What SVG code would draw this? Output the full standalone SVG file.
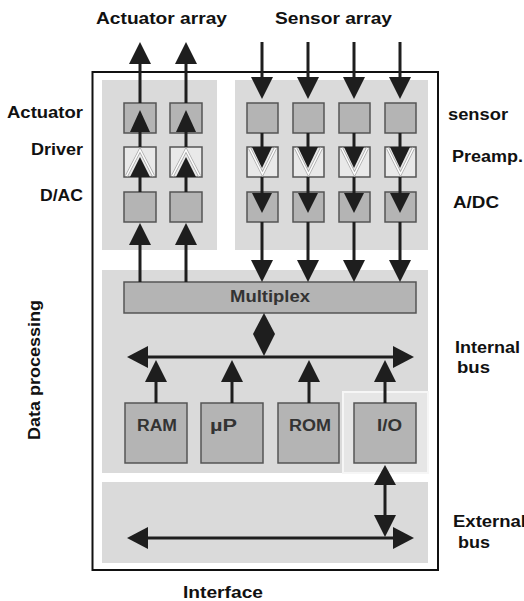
<svg xmlns="http://www.w3.org/2000/svg" width="524" height="601" viewBox="0 0 524 601">
<style>
.panel{fill:#dadada;}
.box{fill:#b4b4b4;stroke:#555;stroke-width:1.5;}
.amp{fill:#e9e9e9;stroke:#555;stroke-width:1.5;}
.vline{fill:none;stroke:#a8a8a8;stroke-width:3;stroke-linejoin:miter;}
.vline2{fill:none;stroke:#fcfcfc;stroke-width:1.6;stroke-linejoin:miter;}
.ln{stroke:#1e1e1e;stroke-width:3;fill:none;}
.hd{fill:#1e1e1e;}
text{font-family:"Liberation Sans",Arial,sans-serif;font-weight:bold;font-size:16px;fill:#111;}
.in{fill:#333;}
</style>
<rect width="524" height="601" fill="#fff"/>
<g id="frame">
<rect x="92.5" y="72" width="345.5" height="498" fill="#fff" stroke="#111" stroke-width="2"/>
</g>
<g id="panels">
<rect id="actuator-panel" class="panel" x="102" y="80" width="115" height="170"/>
<rect id="sensor-panel" class="panel" x="235" y="80" width="193" height="170"/>
<rect id="data-panel" class="panel" x="102" y="270" width="326" height="203"/>
<rect id="io-panel" x="343" y="392" width="85" height="81" fill="#e6e6e6" stroke="#f6f6f6" stroke-width="2"/>
<rect id="interface-panel" class="panel" x="102" y="482" width="326" height="81"/>
</g>
<g id="nodes">
<g id="act1"><rect class="box" x="124" y="103" width="32" height="30"/></g>
<g id="act2"><rect class="box" x="170" y="103" width="32" height="30"/></g>
<g id="drv1"><rect class="amp" x="124" y="147" width="32" height="30"/><polyline class="vline" points="126.5,176 140,150 153.5,176"/><polyline class="vline2" points="126.5,176 140,150 153.5,176"/></g>
<g id="drv2"><rect class="amp" x="170" y="147" width="32" height="30"/><polyline class="vline" points="172.5,176 186,150 199.5,176"/><polyline class="vline2" points="172.5,176 186,150 199.5,176"/></g>
<g id="dac1"><rect class="box" x="124" y="192" width="32" height="30"/></g>
<g id="dac2"><rect class="box" x="170" y="192" width="32" height="30"/></g>
<g id="sen1"><rect class="box" x="247" y="103" width="31" height="30"/></g>
<g id="sen2"><rect class="box" x="293" y="103" width="31" height="30"/></g>
<g id="sen3"><rect class="box" x="339" y="103" width="31" height="30"/></g>
<g id="sen4"><rect class="box" x="385" y="103" width="31" height="30"/></g>
<g id="pre1"><rect class="amp" x="247" y="147" width="31" height="30"/><polyline class="vline" points="249.5,148 262.5,174 275.5,148"/><polyline class="vline2" points="249.5,148 262.5,174 275.5,148"/></g>
<g id="pre2"><rect class="amp" x="293" y="147" width="31" height="30"/><polyline class="vline" points="295.5,148 308.5,174 321.5,148"/><polyline class="vline2" points="295.5,148 308.5,174 321.5,148"/></g>
<g id="pre3"><rect class="amp" x="339" y="147" width="31" height="30"/><polyline class="vline" points="341.5,148 354.5,174 367.5,148"/><polyline class="vline2" points="341.5,148 354.5,174 367.5,148"/></g>
<g id="pre4"><rect class="amp" x="385" y="147" width="31" height="30"/><polyline class="vline" points="387.5,148 400.5,174 413.5,148"/><polyline class="vline2" points="387.5,148 400.5,174 413.5,148"/></g>
<g id="adc1"><rect class="box" x="247" y="192" width="31" height="30"/></g>
<g id="adc2"><rect class="box" x="293" y="192" width="31" height="30"/></g>
<g id="adc3"><rect class="box" x="339" y="192" width="31" height="30"/></g>
<g id="adc4"><rect class="box" x="385" y="192" width="31" height="30"/></g>
<g id="multiplex"><rect class="box" x="124" y="282" width="292" height="31" fill="#bcbcbc"/><text class="in" x="270" y="302" text-anchor="middle" textLength="80" lengthAdjust="spacingAndGlyphs">Multiplex</text></g>
<g id="ram"><rect class="box" x="125" y="403" width="62" height="60"/><text class="in" x="157" y="431" text-anchor="middle" textLength="40" lengthAdjust="spacingAndGlyphs">RAM</text></g>
<g id="up"><rect class="box" x="201" y="403" width="62" height="60"/><text class="in" x="223.5" y="431" text-anchor="middle" textLength="27" lengthAdjust="spacingAndGlyphs">µP</text></g>
<g id="rom"><rect class="box" x="278" y="403" width="61" height="60"/><text class="in" x="310" y="431" text-anchor="middle" textLength="42" lengthAdjust="spacingAndGlyphs">ROM</text></g>
<g id="io"><rect class="box" x="354" y="403" width="62" height="60"/><text class="in" x="389.5" y="431" text-anchor="middle" textLength="25" lengthAdjust="spacingAndGlyphs">I/O</text></g>
</g>
<g id="connectors">
<line class="ln" x1="140" y1="103" x2="140" y2="62"/><polygon class="hd" points="140,42 151,64 129,64"/>
<line class="ln" x1="186" y1="103" x2="186" y2="62"/><polygon class="hd" points="186,42 197,64 175,64"/>
<line class="ln" x1="140" y1="147" x2="140" y2="131"/><polygon class="hd" points="140,110 150,132 130,132"/>
<line class="ln" x1="186" y1="147" x2="186" y2="131"/><polygon class="hd" points="186,110 196,132 176,132"/>
<line class="ln" x1="140" y1="192" x2="140" y2="176"/><polygon class="hd" points="140,157 150,177 130,177"/>
<line class="ln" x1="186" y1="192" x2="186" y2="176"/><polygon class="hd" points="186,157 196,177 176,177"/>
<line class="ln" x1="140" y1="282" x2="140" y2="244"/><polygon class="hd" points="140,223 151,245 129,245"/>
<line class="ln" x1="186" y1="282" x2="186" y2="244"/><polygon class="hd" points="186,223 197,245 175,245"/>
<line class="ln" x1="262" y1="42" x2="262" y2="79"/><polygon class="hd" points="251,77 273,77 262,99"/>
<line class="ln" x1="308" y1="42" x2="308" y2="79"/><polygon class="hd" points="297,77 319,77 308,99"/>
<line class="ln" x1="354" y1="42" x2="354" y2="79"/><polygon class="hd" points="343,77 365,77 354,99"/>
<line class="ln" x1="400" y1="42" x2="400" y2="79"/><polygon class="hd" points="389,77 411,77 400,99"/>
<line class="ln" x1="262" y1="133" x2="262" y2="148"/><polygon class="hd" points="252,147 272,147 262,168"/>
<line class="ln" x1="308" y1="133" x2="308" y2="148"/><polygon class="hd" points="298,147 318,147 308,168"/>
<line class="ln" x1="354" y1="133" x2="354" y2="148"/><polygon class="hd" points="344,147 364,147 354,168"/>
<line class="ln" x1="400" y1="133" x2="400" y2="148"/><polygon class="hd" points="390,147 410,147 400,168"/>
<line class="ln" x1="262" y1="177" x2="262" y2="194"/><polygon class="hd" points="252,193 272,193 262,213"/>
<line class="ln" x1="308" y1="177" x2="308" y2="194"/><polygon class="hd" points="298,193 318,193 308,213"/>
<line class="ln" x1="354" y1="177" x2="354" y2="194"/><polygon class="hd" points="344,193 364,193 354,213"/>
<line class="ln" x1="400" y1="177" x2="400" y2="194"/><polygon class="hd" points="390,193 410,193 400,213"/>
<line class="ln" x1="262" y1="222" x2="262" y2="261"/><polygon class="hd" points="251,260 273,260 262,282"/>
<line class="ln" x1="308" y1="222" x2="308" y2="261"/><polygon class="hd" points="297,260 319,260 308,282"/>
<line class="ln" x1="354" y1="222" x2="354" y2="261"/><polygon class="hd" points="343,260 365,260 354,282"/>
<line class="ln" x1="400" y1="222" x2="400" y2="261"/><polygon class="hd" points="389,260 411,260 400,282"/>
<polygon class="hd" points="264,313 275,334 264,356 253,334"/>
<line class="ln" x1="146" y1="357" x2="395" y2="357"/>
<polygon class="hd" points="127,357 148,346 148,368"/>
<polygon class="hd" points="414,357 393,346 393,368"/>
<line class="ln" x1="156" y1="403" x2="156" y2="381"/><polygon class="hd" points="156,360 167,382 145,382"/>
<line class="ln" x1="232" y1="403" x2="232" y2="381"/><polygon class="hd" points="232,360 243,382 221,382"/>
<line class="ln" x1="309" y1="403" x2="309" y2="381"/><polygon class="hd" points="309,360 320,382 298,382"/>
<line class="ln" x1="385" y1="403" x2="385" y2="381"/><polygon class="hd" points="385,360 396,382 374,382"/>
<line class="ln" x1="385" y1="484" x2="385" y2="516"/>
<polygon class="hd" points="385,465 396,485 374,485"/>
<polygon class="hd" points="374,515 396,515 385,537"/>
<line class="ln" x1="146" y1="538" x2="395" y2="538"/>
<polygon class="hd" points="127,538 148,527 148,549"/>
<polygon class="hd" points="414,538 393,527 393,549"/>
</g>
<g id="labels">
<text x="96" y="24" textLength="131" lengthAdjust="spacingAndGlyphs">Actuator array</text>
<text x="275" y="24" textLength="117" lengthAdjust="spacingAndGlyphs">Sensor array</text>
<text x="83" y="118" text-anchor="end" textLength="76" lengthAdjust="spacingAndGlyphs">Actuator</text>
<text x="83" y="155" text-anchor="end" textLength="52" lengthAdjust="spacingAndGlyphs">Driver</text>
<text x="83" y="201" text-anchor="end" textLength="43" lengthAdjust="spacingAndGlyphs">D/AC</text>
<text x="448" y="120" textLength="60" lengthAdjust="spacingAndGlyphs">sensor</text>
<text x="452" y="162" textLength="71" lengthAdjust="spacingAndGlyphs">Preamp.</text>
<text x="453" y="208" textLength="46" lengthAdjust="spacingAndGlyphs">A/DC</text>
<text x="455" y="353" textLength="65" lengthAdjust="spacingAndGlyphs">Internal</text>
<text x="457" y="373" textLength="33" lengthAdjust="spacingAndGlyphs">bus</text>
<text x="453" y="527" textLength="73" lengthAdjust="spacingAndGlyphs">External</text>
<text x="458" y="548" textLength="32" lengthAdjust="spacingAndGlyphs">bus</text>
<text x="183" y="598" textLength="80" lengthAdjust="spacingAndGlyphs">Interface</text>
<text x="40" y="370" text-anchor="middle" transform="rotate(-90 40 370)" textLength="140" lengthAdjust="spacingAndGlyphs">Data processing</text>
</g>
</svg>
